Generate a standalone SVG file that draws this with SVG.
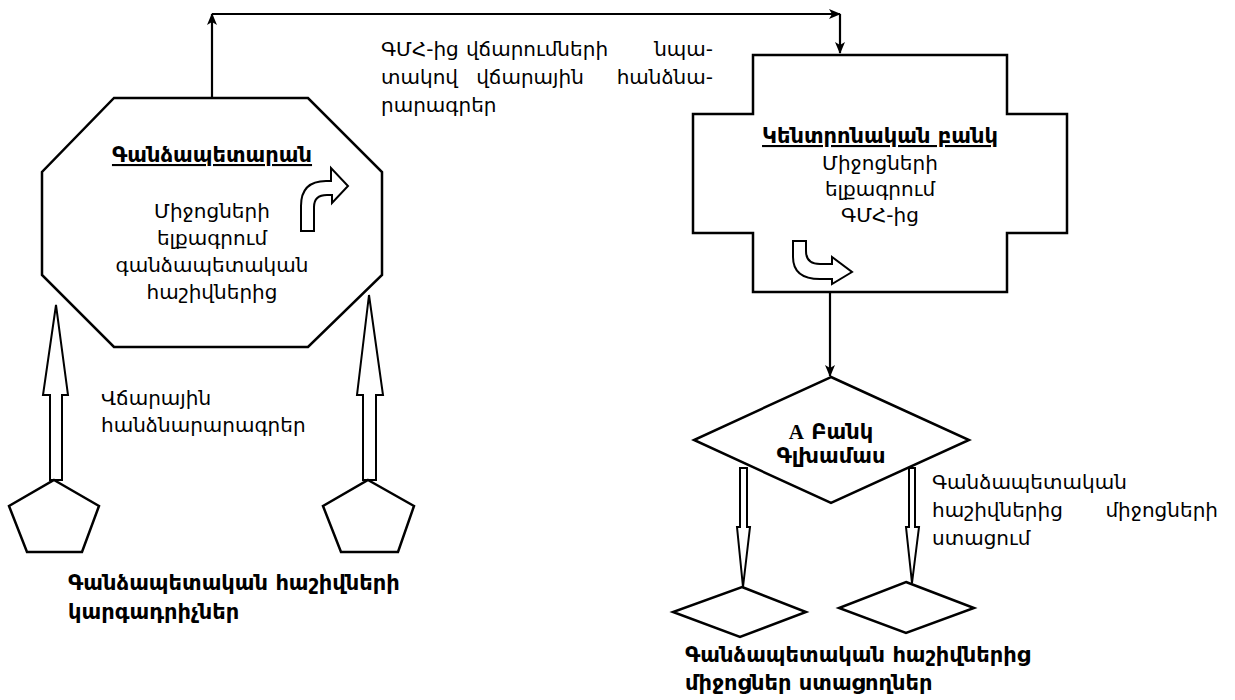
<svg xmlns="http://www.w3.org/2000/svg" width="1235" height="700" viewBox="0 0 1235 700">
  <defs>
    <marker id="arrow" viewBox="0 0 12 10" refX="11" refY="5" markerWidth="12" markerHeight="10" markerUnits="userSpaceOnUse" orient="auto">
      <path d="M0,0 L12,5 L0,10 L3,5 Z" fill="#000"/>
    </marker>
    <style>
      .shape { fill: #fff; stroke: #000; stroke-width: 2.5; stroke-linejoin: miter; }
      .hollow { fill: #fff; stroke: #000; stroke-width: 2; }
      .conn { fill: none; stroke: #000; stroke-width: 2.2; }
      text { font-family: "DejaVu Sans", "Noto Sans", sans-serif; font-size: 20px; fill: #000; }
      .title { font-weight: bold; font-size: 21px; text-decoration: underline; }
      .bold { font-weight: bold; font-size: 21px; }
      .mid { text-anchor: middle; }
      .end { text-anchor: end; }
    </style>
  </defs>

  <!-- connectors -->
  <g id="connectors">
    <polyline class="conn" points="212,98 212,14" marker-end="url(#arrow)"/>
    <polyline class="conn" points="212,14 840,14" marker-end="url(#arrow)"/>
    <polyline class="conn" points="840,14 840,53" marker-end="url(#arrow)"/>
    <polyline class="conn" points="830,292 830,376" marker-end="url(#arrow)"/>
    <!-- hollow block arrows: payers up into the treasury -->
    <polygon class="hollow" points="50,480 50,395 43,395 56,305 68,395 62,395 62,480"/>
    <polygon class="hollow" points="363,480 363,395 357,395 369,295 383,395 376,395 376,480"/>
    <!-- hollow block arrows: bank branch down to recipients -->
    <polygon class="hollow" points="740,468 747,468 747,527 750,527 743,587 737,527 740,527"/>
    <polygon class="hollow" points="909,468 915,468 915,527 919,527 912,583 906,527 909,527"/>
  </g>

  <!-- treasury -->
  <g id="treasury">
    <polygon class="shape" points="114,98 308,98 382,172 382,275 308,347 114,347 42,275 42,172"/>
    <text class="title mid" x="212" y="162">Գանձապետարան</text>
    <text class="mid" x="212" y="218">Միջոցների</text>
    <text class="mid" x="212" y="245">ելքագրում</text>
    <text class="mid" x="212" y="272">գանձապետական</text>
    <text class="mid" x="212" y="299">հաշիվներից</text>
    <path class="hollow" d="M301,231 V206 Q301,181 326,181 H331 V168 L348,186 L332,203 V195 H327 Q314,195 314,207 V231 Z"/>
  </g>

  <!-- central bank -->
  <g id="central-bank">
    <polygon class="shape" points="753,55 1007,55 1007,114 1067,114 1067,233 1007,233 1007,292 753,292 753,233 693,233 693,114 753,114"/>
    <text class="title mid" x="880" y="143">Կենտրոնական բանկ</text>
    <text class="mid" x="880" y="170">Միջոցների</text>
    <text class="mid" x="880" y="196">ելքագրում</text>
    <text class="mid" x="880" y="222">ԳՄՀ-ից</text>
    <path class="hollow" d="M793,241 H806 V251 Q806,264 820,264 H832 V257 L852,272 L832,284 V279 H820 Q793,279 793,257 Z"/>
  </g>

  <!-- bank head office -->
  <g id="bank-head-office">
    <polygon class="shape" points="831,377 969,440 831,503 694,440"/>
    <text class="bold mid" x="831" y="439"><tspan font-family="'Liberation Serif', serif">A</tspan> Բանկ</text>
    <text class="bold mid" x="831" y="463">Գլխամաս</text>
  </g>

  <!-- payers -->
  <g id="payer-1">
    <polygon class="shape" points="54,480 99,506 82,552 27,552 9,506"/>
  </g>
  <g id="payer-2">
    <polygon class="shape" points="368,480 414,506 398,552 341,552 323,506"/>
  </g>

  <!-- recipients -->
  <g id="recipient-1">
    <polygon class="shape" points="742,587 806,612 740,637 673,612"/>
  </g>
  <g id="recipient-2">
    <polygon class="shape" points="906,582 974,608 906,633 839,608"/>
  </g>

  <!-- labels -->
  <g id="labels">
    <text x="381" y="56">ԳՄՀ-ից</text>
    <text class="mid" x="537" y="56">վճարումների</text>
    <text class="end" x="713" y="56">նպա-</text>
    <text x="381" y="84">տակով</text>
    <text class="mid" x="530" y="84">վճարային</text>
    <text class="end" x="713" y="84">հանձնա-</text>
    <text x="381" y="112">րարագրեր</text>

    <text x="101" y="405">Վճարային</text>
    <text x="101" y="432">հանձնարարագրեր</text>

    <text class="bold" x="68" y="590">Գանձապետական հաշիվների</text>
    <text class="bold" x="68" y="619">կարգադրիչներ</text>

    <text x="932" y="489">Գանձապետական</text>
    <text x="932" y="517">հաշիվներից</text>
    <text class="end" x="1218" y="517">միջոցների</text>
    <text x="932" y="545">ստացում</text>

    <text class="bold" x="685" y="662">Գանձապետական հաշիվներից</text>
    <text class="bold" x="685" y="690">միջոցներ ստացողներ</text>
  </g>
</svg>
